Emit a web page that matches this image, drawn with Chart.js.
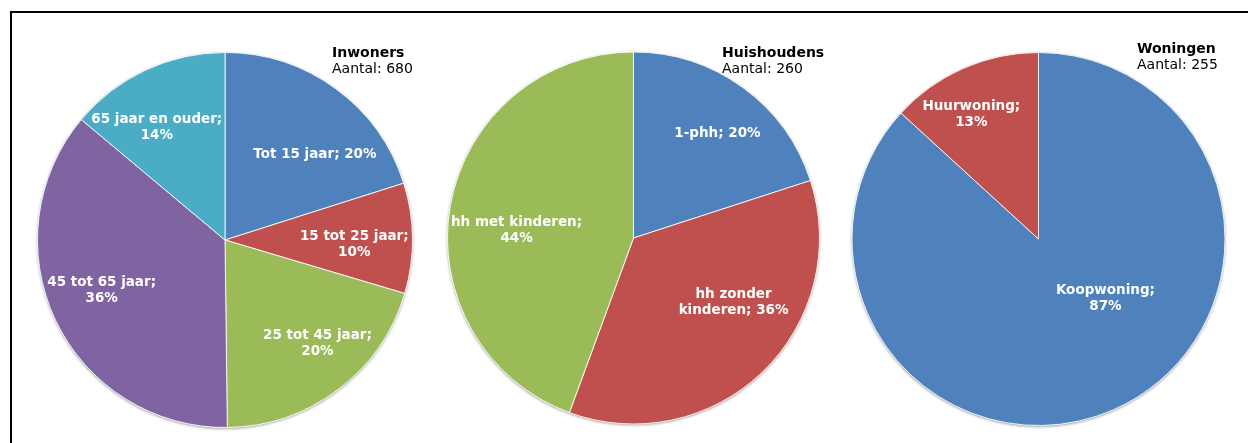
<!DOCTYPE html>
<html>
<head>
<meta charset="utf-8">
<script src="https://cdn.jsdelivr.net/npm/chart.js@4/dist/chart.umd.min.js"></script>
<style>
  body { margin: 0; background: #fff; width: 1248px; height: 443px; overflow: hidden; position: relative; font-family: "DejaVu Sans", Verdana, sans-serif; }
  .frame { position: absolute; left: 10px; top: 11px; width: 1300px; height: 500px; border: 2px solid #000; }
  canvas { position: absolute; top: 0; }
  .head { position: absolute; font-size: 14px; line-height: 16px; color: #000; }
  .head b { display: block; }
</style>
</head>
<body>
<div class="frame"></div>

<canvas id="pie0" width="400" height="443"></canvas>
<canvas id="pie1" width="400" height="443"></canvas>
<canvas id="pie2" width="400" height="443"></canvas>

<div class="head" id="head0"></div>
<div class="head" id="head1"></div>
<div class="head" id="head2"></div>

<script>
// chart titles and totals
const titles = ['Inwoners', 'Huishoudens', 'Woningen'];
const totals = [680, 260, 255];

// Inwoners (share in %)
const ageGroups = ['Tot 15 jaar', '15 tot 25 jaar', '25 tot 45 jaar', '45 tot 65 jaar', '65 jaar en ouder'];
const ageShares = [20.1, 9.5, 20.2, 36.3, 13.9];

// Huishoudens (share in %)
const hhTypes = ['1-phh', 'hh zonder kinderen', 'hh met kinderen'];
const hhShares = [20.0, 35.6, 44.4];

// Woningen (share in %)
const homeTypes = ['Koopwoning', 'Huurwoning'];
const homeShares = [86.8, 13.2];

const BLUE = '#4f81bd', RED = '#c0504d', GREEN = '#9bbb59', PURPLE = '#8064a2', CYAN = '#4bacc6';

// layout: centre/radius of each pie, label spots [deg from top, fraction of radius],
// and how many words go on the first label line (null = one line)
const charts = [
  { cats: ageGroups, vals: ageShares, colors: [BLUE, RED, GREEN, PURPLE, CYAN],
    cx: 225, cy: 240, r: 188, head: [332, 44],
    spots: [[46.6, 0.66], [92.2, 0.69], [138.2, 0.74], [247.9, 0.71], [328.7, 0.70]],
    wrap: [null, 4, 4, 4, 4] },
  { cats: hhTypes, vals: hhShares, colors: [BLUE, RED, GREEN],
    cx: 633.5, cy: 238, r: 186.5, head: [722, 44],
    spots: [[38.8, 0.72], [122.8, 0.64], [273.6, 0.63]],
    wrap: [null, 2, 3] },
  { cats: homeTypes, vals: homeShares, colors: [BLUE, RED],
    cx: 1038.5, cy: 239, r: 187, head: [1137, 40],
    spots: [[131.6, 0.48], [331.7, 0.76]],
    wrap: [1, 1] }
];

// soft grey rim under the pie
const rimShadow = {
  id: 'rimShadow',
  beforeDatasetsDraw(chart) {
    const arc = chart.getDatasetMeta(0).data[0];
    if (!arc) return;
    const ctx = chart.ctx;
    ctx.save();
    ctx.shadowColor = 'rgba(0,0,0,0.45)';
    ctx.shadowBlur = 3;
    ctx.shadowOffsetY = 1;
    ctx.fillStyle = '#fff';
    ctx.beginPath();
    ctx.arc(arc.x, arc.y, arc.outerRadius, 0, Math.PI * 2);
    ctx.fill();
    ctx.restore();
  }
};

// white "name; pct%" labels inside the slices
const sliceLabels = {
  id: 'sliceLabels',
  afterDatasetsDraw(chart, args, opts) {
    const ctx = chart.ctx;
    const labels = chart.data.labels;
    const vals = chart.data.datasets[0].data;
    ctx.save();
    ctx.font = 'bold 13.5px "DejaVu Sans", Verdana, sans-serif';
    ctx.fillStyle = '#fff';
    ctx.textAlign = 'center';
    ctx.textBaseline = 'middle';
    chart.getDatasetMeta(0).data.forEach((arc, i) => {
      const words = (labels[i] + '; ' + Math.round(vals[i]) + '%').split(' ');
      const n = opts.wrap[i];
      const lines = n ? [words.slice(0, n).join(' '), words.slice(n).join(' ')] : [words.join(' ')];
      const [deg, f] = opts.spots[i];
      const a = deg * Math.PI / 180;
      const x = arc.x + Math.sin(a) * f * arc.outerRadius;
      const y = arc.y - Math.cos(a) * f * arc.outerRadius;
      const lh = 16;
      lines.forEach((t, k) => {
        ctx.fillText(t, x, y + (k - (lines.length - 1) / 2) * lh);
      });
    });
    ctx.restore();
  }
};

charts.forEach((c, idx) => {
  const canvas = document.getElementById('pie' + idx);
  const left = Math.round(c.cx) - 200;
  canvas.style.left = left + 'px';

  const head = document.getElementById('head' + idx);
  head.style.left = c.head[0] + 'px';
  head.style.top = c.head[1] + 'px';
  head.innerHTML = '<b>' + titles[idx] + '</b>Aantal: ' + totals[idx];

  new Chart(canvas, {
    type: 'pie',
    data: {
      labels: c.cats,
      datasets: [{
        data: c.vals,
        backgroundColor: c.colors,
        borderColor: 'rgba(255,255,255,0.85)',
        borderWidth: 1
      }]
    },
    options: {
      responsive: false,
      animation: false,
      devicePixelRatio: 1,
      layout: {
        padding: {
          left: c.cx - c.r - left,
          right: 400 - (c.cx + c.r - left),
          top: c.cy - c.r,
          bottom: 443 - c.cy - c.r
        }
      },
      plugins: {
        legend: { display: false },
        tooltip: { enabled: false },
        sliceLabels: { spots: c.spots, wrap: c.wrap }
      }
    },
    plugins: [rimShadow, sliceLabels]
  });
});
</script>
</body>
</html>
